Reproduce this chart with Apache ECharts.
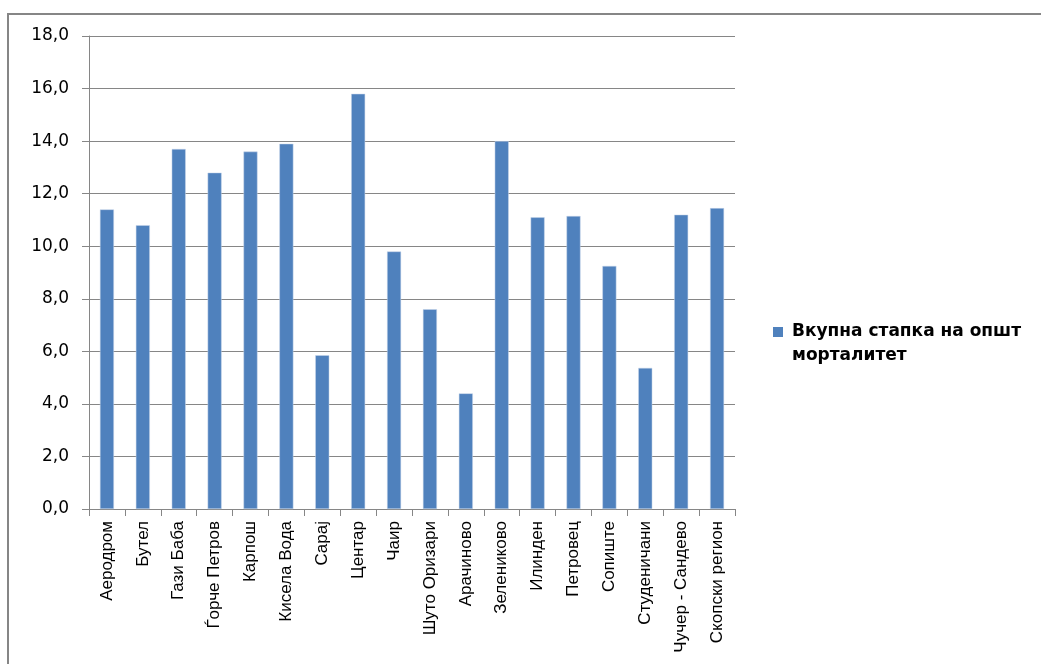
<!DOCTYPE html>
<html>
<head>
<meta charset="utf-8">
<script src="https://cdn.jsdelivr.net/npm/echarts@6/dist/echarts.min.js"></script>
<style>
html,body{margin:0;padding:0;background:#fff;}
#chart{width:1041px;height:664px;}
</style>
</head>
<body>
<div id="chart"></div>
<script>
var categories = ['Аеродром','Бутел','Гази Баба','Ѓорче Петров','Карпош','Кисела Вода','Сарај','Центар','Чаир','Шуто Оризари','Арачиново','Зелениково','Илинден','Петровец','Сопиште','Студеничани','Чучер - Сандево','Скопски регион'];
var values = [11.4, 10.8, 13.7, 12.8, 13.6, 13.9, 5.85, 15.8, 9.8, 7.6, 4.4, 14.0, 11.1, 11.15, 9.25, 5.37, 11.2, 11.45];
var seriesName = 'Вкупна стапка на општ морталитет';
var legendLines = ['Вкупна стапка на општ', 'морталитет'];
var yTicks = {min: 0, max: 18, interval: 2};

var chart = echarts.init(document.getElementById('chart'));
chart.setOption({
  animation: false,
  backgroundColor: '#ffffff',
  graphic: [{
    type: 'rect',
    shape: {x: 8, y: 14, width: 1100, height: 700},
    style: {fill: 'none', stroke: '#868686', lineWidth: 2},
    silent: true,
    z: -1
  }],
  grid: {left: 89, right: 306, top: 36, bottom: 155, containLabel: false},
  legend: {
    data: [seriesName],
    left: 773,
    top: 296,
    padding: 0,
    itemWidth: 10,
    itemHeight: 10,
    itemGap: 6,
    icon: 'rect',
    itemStyle: {borderWidth: 0},
    formatter: function () { return ' \n' + legendLines.join('\n'); },
    textStyle: {
      fontFamily: 'DejaVu Sans',
      fontWeight: 'bold',
      fontSize: 17,
      color: '#000',
      lineHeight: 24,
      padding: [0, 0, 0, 4]
    }
  },
  xAxis: {
    type: 'category',
    data: categories,
    axisLine: {lineStyle: {color: '#868686', width: 1}},
    axisTick: {show: true, alignWithLabel: false, length: 7, lineStyle: {color: '#868686'}},
    axisLabel: {
      rotate: 90,
      interval: 0,
      margin: 12,
      fontFamily: 'Liberation Sans',
      fontSize: 17,
      color: '#000'
    }
  },
  yAxis: {
    type: 'value',
    min: yTicks.min,
    max: yTicks.max,
    interval: yTicks.interval,
    axisLine: {show: true, lineStyle: {color: '#868686', width: 1}},
    axisTick: {show: true, length: 7, lineStyle: {color: '#868686'}},
    splitLine: {show: true, lineStyle: {color: '#868686', width: 1}},
    axisLabel: {
      margin: 20,
      fontFamily: 'DejaVu Sans',
      fontSize: 17,
      color: '#000',
      formatter: function (v) { return v.toFixed(1).replace('.', ','); }
    }
  },
  series: [{
    name: seriesName,
    type: 'bar',
    data: values,
    barWidth: 14,
    itemStyle: {color: '#4F81BD', borderColor: '#c9d7ea', borderWidth: 0.5}
  }]
});
</script>
</body>
</html>
